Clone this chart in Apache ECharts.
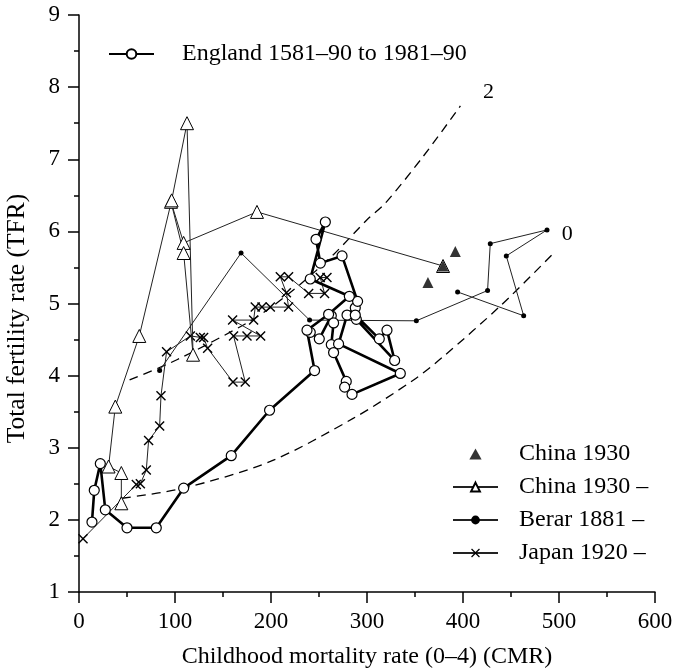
<!DOCTYPE html>
<html>
<head>
<meta charset="utf-8">
<script src="https://cdn.jsdelivr.net/npm/echarts@6/dist/echarts.min.js"></script>
<style>
html,body{margin:0;padding:0;background:#fff;}
#main{width:675px;height:672px;}
</style>
</head>
<body>
<div id="main"></div>
<script>
// ---- data ----
const englandCMR = [240.9,250.3,262.8,265.2,262.8,265.2,278.4,276.7,284.4,334.7,270.4,279.2,287.8,288.9,328.8,320.8,312.8,287.8,290.2,274.0,251.4,246.9,256.6,240.9,281.6,260.0,237.5,245.4,198.5,158.6,109.0,80.5,50.0,27.4,22.2,15.9,13.5];
const englandTFR = [4.60,4.51,4.83,4.73,4.43,4.32,3.92,3.84,3.74,4.03,4.44,4.84,4.94,4.78,4.21,4.63,4.51,4.84,5.03,5.66,5.56,5.89,6.13,5.34,5.10,4.85,4.63,4.07,3.52,2.89,2.44,1.89,1.89,2.14,2.78,2.41,1.97];

const china1930CMR = [392.0,379.2,363.5];
const china1930TFR = [5.72,5.52,5.29];

const chinaCMR = [379.2,185.4,109.0,95.8,109.0,118.8,112.5,96.5,62.8,37.8,30.8,44.1,44.1];
const chinaTFR = [5.52,6.27,5.84,6.41,5.70,4.29,7.50,6.43,4.55,3.57,2.74,2.65,2.23];

const berarCMR = [84.0,168.8,240.2,351.4,425.6,428.4,487.5,445.1,463.2,394.4];
const berarTFR = [4.07,5.70,4.77,4.76,5.18,5.83,6.02,5.66,4.83,5.16];

const japanCMR = [258.3,251.3,255.8,239.2,218.3,209.7,216.0,218.3,199.3,190.6,183.6,181.9,160.0,189.2,175.0,161.0,173.2,160.4,134.0,129.8,126.4,116.0,91.2,85.4,84.0,72.5,70.1,63.9,59.7,4.2];
const japanTFR = [5.36,5.36,5.14,5.14,5.37,5.37,5.15,4.95,4.95,4.95,4.95,4.77,4.77,4.55,4.55,4.55,3.91,3.91,4.38,4.53,4.53,4.55,4.33,3.72,3.30,3.10,2.69,2.50,2.49,1.74];

const curve0CMR = [44.8,109.0,199.3,286.0,348.5,380.0,440.0,496.0];
const curve0TFR = [2.30,2.44,2.81,3.41,3.94,4.27,4.98,5.72];
const curve2CMR = [52.7,102.0,175.0,199.3,230.0,265.2,300.0,319.0,358.0,397.3];
const curve2TFR = [3.94,4.22,4.73,4.94,5.26,5.68,6.16,6.39,7.03,7.74];

const seriesNames = ['England 1581–90 to 1981–90','China 1930','China 1930 –','Berar 1881 –','Japan 1920 –'];
const curveLabels = ['0','2'];

// ---- build ----
const zip = (a,b) => a.map((v,i)=>[v,b[i]]);
const FONT = 'Liberation Serif';
const crossPath = 'path://M0,1 L1,0 L5,4 L9,0 L10,1 L6,5 L10,9 L9,10 L5,6 L1,10 L0,9 L4,5 Z';
const triPath = 'path://M5,0 L10,9 L0,9 Z';

function curveData(xs, ys, label, offset){
  const d = zip(xs, ys).map(v=>({value:v}));
  d[d.length-1].label = {show:true, formatter:label, position:'inside', offset:offset,
    color:'#000', fontFamily:FONT, fontSize:22};
  return d;
}

const chart = echarts.init(document.getElementById('main'), null, {renderer:'canvas'});
const axisCommon = {
  axisLine:{show:true, lineStyle:{color:'#000', width:1.5}},
  axisTick:{show:true, length:11, lineStyle:{color:'#000', width:1.5}},
  minorTick:{show:true, splitNumber:2, length:5, lineStyle:{color:'#000', width:1.5}},
  splitLine:{show:false},
  axisLabel:{color:'#000', fontFamily:FONT, fontSize:23},
  nameTextStyle:{color:'#000', fontFamily:FONT, fontSize:24}
};
chart.setOption({
  backgroundColor:'#fff',
  animation:false,
  grid:{left:79, right:20, top:15, bottom:80, containLabel:false, outerBoundsMode:'none'},
  xAxis:Object.assign({}, axisCommon, {
    type:'value', min:0, max:600, interval:100,
    name:'Childhood mortality rate (0–4) (CMR)', nameLocation:'middle', nameGap:53,
    axisLabel:Object.assign({}, axisCommon.axisLabel, {margin:18})
  }),
  yAxis:Object.assign({}, axisCommon, {
    type:'value', min:1, max:9, interval:1,
    name:'Total fertility rate (TFR)', nameLocation:'middle', nameGap:49,
    nameTextStyle:Object.assign({}, axisCommon.nameTextStyle, {fontSize:25.5, padding:[0,30,0,0]}),
    axisLabel:Object.assign({}, axisCommon.axisLabel, {margin:19})
  }),
  legend:[
    {data:[seriesNames[0]], left:103, top:37, itemWidth:45, itemHeight:12,
     textStyle:{color:'#000', fontFamily:FONT, fontSize:24, padding:[0,0,0,23]}},
    {data:[{name:seriesNames[1], icon:triPath}].concat(seriesNames.slice(2)),
     orient:'vertical', left:447, top:437, itemWidth:45, itemHeight:11, itemGap:9,
     textStyle:{color:'#000', fontFamily:FONT, fontSize:24, padding:[0,0,0,16]}}
  ],
  series:[
    {type:'line', name:'curve0', data:curveData(curve0CMR, curve0TFR, curveLabels[0], [12,-17]),
     smooth:0.3, symbol:'circle', symbolSize:0, showSymbol:true, showAllSymbol:true,
     lineStyle:{color:'#000', width:1.3, type:[9,6]}, itemStyle:{color:'#000'}, silent:true, z:1},
    {type:'line', name:'curve2', data:curveData(curve2CMR, curve2TFR, curveLabels[1], [28,-14]),
     smooth:0.3, symbol:'circle', symbolSize:0, showSymbol:true, showAllSymbol:true,
     lineStyle:{color:'#000', width:1.3, type:[9,6]}, itemStyle:{color:'#000'}, silent:true, z:1},
    {type:'line', name:seriesNames[4], data:zip(japanCMR, japanTFR),
     symbol:crossPath, symbolSize:10, showAllSymbol:true,
     lineStyle:{color:'#222', width:1}, itemStyle:{color:'#000'}, z:2},
    {type:'line', name:seriesNames[3], data:zip(berarCMR, berarTFR),
     symbol:'circle', symbolSize:5, showAllSymbol:true,
     lineStyle:{color:'#222', width:1}, itemStyle:{color:'#000'}, z:2},
    {type:'line', name:seriesNames[2], data:zip(chinaCMR, chinaTFR),
     symbol:'triangle', symbolSize:13, showAllSymbol:true,
     lineStyle:{color:'#222', width:1}, itemStyle:{color:'#fff', borderColor:'#000', borderWidth:1}, z:3},
    {type:'scatter', name:seriesNames[1], data:zip(china1930CMR, china1930TFR),
     symbol:'triangle', symbolSize:11, itemStyle:{color:'#000'}, z:4},
    {type:'line', name:seriesNames[0], data:zip(englandCMR, englandTFR),
     symbol:'circle', symbolSize:10, showAllSymbol:true,
     lineStyle:{color:'#000', width:2.6}, itemStyle:{color:'#fff', borderColor:'#000', borderWidth:1.2}, z:5}
  ]
});
</script>
</body>
</html>
